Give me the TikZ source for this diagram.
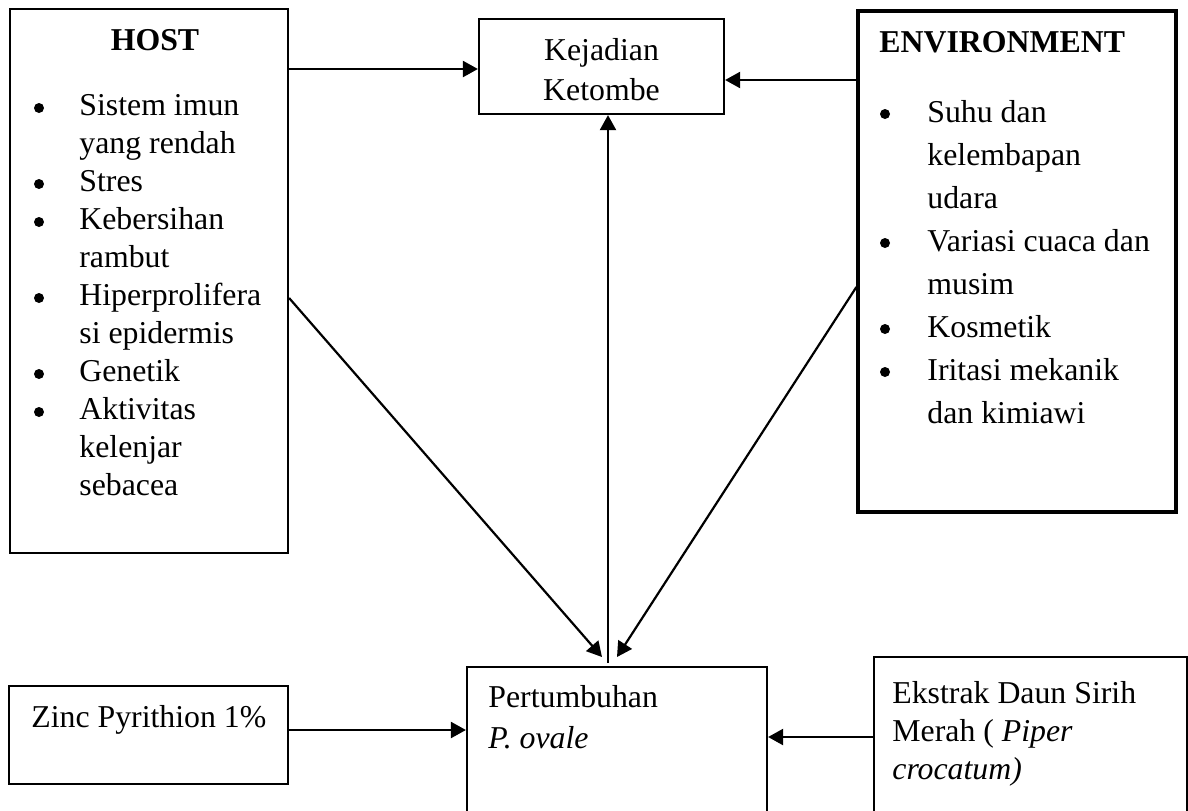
\documentclass[tikz,border=0pt]{standalone}
\usepackage{fontspec}
\setmainfont{Liberation Serif}
\usetikzlibrary{arrows.meta}
\begin{document}
\begin{tikzpicture}[x=0.5pt,y=-0.5pt,
  box/.style={draw, line width=1.1pt, inner sep=0pt, rectangle},
  txt/.style={anchor=base west, inner sep=0pt, font=\fontsize{15.9}{19}\selectfont},
  ctxt/.style={anchor=base, inner sep=0pt, font=\fontsize{15.9}{19}\selectfont},
  bul/.style={circle, fill=black, inner sep=0pt, minimum size=5pt},
  arr/.style={line width=1.1pt, -{Triangle[length=7.5pt,width=8pt]}}]
\useasboundingbox (0,0) rectangle (1188,810);
\clip (0,0) rectangle (1188,810);
\fill[white] (0,0) rectangle (1188,810);

% boxes
\node[box, minimum width=139pt, minimum height=272pt] (host) at (149,281) {};
\node[box, minimum width=122.5pt, minimum height=47.5pt] (kej) at (601.5,66.5) {};
\node[box, line width=1.6pt, minimum width=159pt, minimum height=250.5pt] (env) at (1017,261.5) {};
\node[box, minimum width=139.5pt, minimum height=49pt] (zinc) at (148.5,735) {};
\node[box, minimum width=150pt, minimum height=101.5pt] (pert) at (617,768.5) {};
\node[box, minimum width=156.5pt, minimum height=106.5pt] (eks) at (1030.5,763.5) {};

% HOST text
\node[ctxt, font=\fontsize{15.9}{19}\selectfont\bfseries] (hosttitle) at (155,50) {HOST};
\foreach \t [count=\i] in {Sistem imun, yang rendah, Stres, Kebersihan, rambut, Hiperprolifera, si epidermis, Genetik, Aktivitas, kelenjar, sebacea}
  \node[txt] (ht\i) at ({79},{115+38*(\i-1)}) {\t};
\foreach \i in {1,3,4,6,8,9}
  \node[bul] (hb\i) at ({39},{108+38*(\i-1)}) {};

% ENVIRONMENT text
\node[txt, font=\fontsize{15.9}{19}\selectfont\bfseries] (envtitle) at (879,52) {ENVIRONMENT};
\foreach \t [count=\i] in {Suhu dan, kelembapan, udara, Variasi cuaca dan, musim, Kosmetik, Iritasi mekanik, dan kimiawi}
  \node[txt] (et\i) at ({927},{122+43*(\i-1)}) {\t};
\foreach \i in {1,4,6,7}
  \node[bul] (eb\i) at ({885},{114+43*(\i-1)}) {};

% Kejadian text
\node[ctxt] (kt1) at (601.5,60) {Kejadian};
\node[ctxt] (kt2) at (601.5,100) {Ketombe};

% Zinc
\node[txt] (zt) at (31,727) {Zinc Pyrithion 1\%};

% Pertumbuhan
\node[txt] (pt1) at (488,707) {Pertumbuhan};
\node[txt] (pt2) at (488,748) {\itshape P. ovale};

% Ekstrak
\node[txt] (ek1) at (892,703) {Ekstrak Daun Sirih};
\node[txt] (ek2) at (892,741) {Merah ( \textit{Piper}};
\node[txt] (ek3) at (892,779) {\textit{crocatum)}};

% connector helper coordinates
\coordinate (yA) at (0,69);
\coordinate (yB) at (0,80);
\coordinate (yC) at (0,298);
\coordinate (yD) at (0,287);
\coordinate (yE) at (0,730);
\coordinate (yF) at (0,737);
\coordinate (pl) at (602,657);
\coordinate (pr) at (617,657);
\coordinate (pv) at (608,663);

\draw[arr] (host.east |- yA) -- (kej.west |- yA);
\draw[arr] (env.west |- yB) -- (kej.east |- yB);
\draw[arr] (pv) -- (kej.south -| pv);
\draw[arr] (host.east |- yC) -- (pl);
\draw[arr] (env.west |- yD) -- (pr);
\draw[arr] (zinc.east |- yE) -- (pert.west |- yE);
\draw[arr] (eks.west |- yF) -- (pert.east |- yF);
\end{tikzpicture}
\end{document}
